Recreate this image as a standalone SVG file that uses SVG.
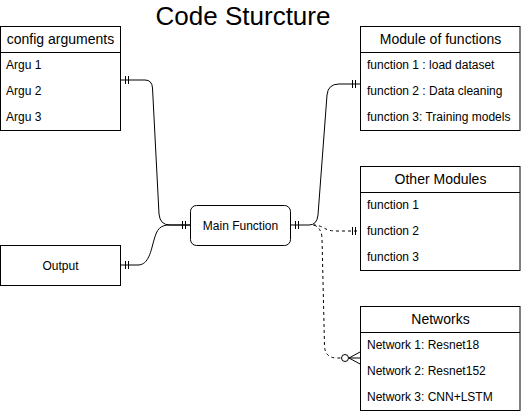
<svg xmlns="http://www.w3.org/2000/svg" width="521" height="413" viewBox="0 0 521 413">
<style>
  .box{fill:#fff;stroke:#000;stroke-width:1}
  .sep{stroke:#000;stroke-width:1}
  .hdr{font-family:"Liberation Sans",Arial,sans-serif;font-size:14px;fill:#000;text-anchor:middle}
  .row{font-family:"Liberation Sans",Arial,sans-serif;font-size:12px;fill:#000}
  .lbl{font-family:"Liberation Sans",Arial,sans-serif;font-size:12px;fill:#000;text-anchor:middle}
  .title{font-family:"Liberation Sans",Arial,sans-serif;font-size:26px;fill:#000;text-anchor:middle}
  .edge{fill:none;stroke:#000;stroke-width:1}
  .dash{stroke-dasharray:3 3}
  .tick{stroke:#000;stroke-width:1}
</style>
<rect width="521" height="413" fill="#fff"/>
<text id="title" class="title" x="243" y="25">Code Sturcture</text>

<g id="connectors">
  <path class="edge" d="M120.5,80 H145 Q152,80 152.5,88 L159,214 Q160,225 170,225 H190"/>
  <path class="edge" d="M120.5,265 H138 C149,265 151,250 154,240 C157,229 160,225 170,225 H190"/>
  <path class="edge" d="M290.5,225 H309 Q317,225 318,215 L327,95 Q328,84 339,84 H360"/>
  <path class="edge dash" d="M313,225 Q319,225 325,228.5 Q329,231 336,231 H360"/>
  <path class="edge dash" d="M314,225 Q321.5,228 322,238 L324.5,346 Q325,358 337,358 H341.5"/>
  <!-- mandatory-one ticks -->
  <path class="tick" d="M125.5,76 V84 M128.5,76 V84"/>
  <path class="tick" d="M125.5,261 V269 M128.5,261 V269"/>
  <path class="tick" d="M182.5,221 V229 M185.5,221 V229"/>
  <path class="tick" d="M295.5,221 V229 M298.5,221 V229"/>
  <path class="tick" d="M352.5,80 V88 M355.5,80 V88"/>
  <path class="tick" d="M352.5,227 V235 M355.5,227 V235"/>
  <!-- zero-to-many -->
  <circle cx="345" cy="358" r="3.5" fill="#fff" stroke="#000"/>
  <path class="edge" d="M360,352 L349,358 L360,364 M349,358 H360"/>
</g>

<g id="config">
  <rect class="box" x="0.5" y="26.5" width="120" height="104"/>
  <line class="sep" x1="0.5" y1="52.5" x2="120.5" y2="52.5"/>
  <text class="hdr" x="60.5" y="44">config arguments</text>
  <text class="row" x="6" y="69">Argu 1</text>
  <text class="row" x="6" y="95">Argu 2</text>
  <text class="row" x="6" y="121">Argu 3</text>
</g>

<g id="output">
  <rect class="box" x="0.5" y="245.5" width="120" height="40"/>
  <text class="lbl" x="60.5" y="269.5">Output</text>
</g>

<g id="main">
  <rect class="box" x="190.5" y="205.5" width="100" height="40" rx="6" ry="6"/>
  <text class="lbl" x="240.5" y="229.5">Main Function</text>
</g>

<g id="modules">
  <rect class="box" x="360.5" y="26.5" width="159.5" height="104"/>
  <line class="sep" x1="360.5" y1="52.5" x2="520" y2="52.5"/>
  <text class="hdr" x="440.5" y="44">Module of functions</text>
  <text class="row" x="367" y="69">function 1 : load dataset</text>
  <text class="row" x="367" y="95">function 2 : Data cleaning</text>
  <text class="row" x="367" y="121">function 3: Training models</text>
</g>

<g id="other">
  <rect class="box" x="360.5" y="166.5" width="159.5" height="104"/>
  <line class="sep" x1="360.5" y1="192.5" x2="520" y2="192.5"/>
  <text class="hdr" x="440.5" y="184">Other Modules</text>
  <text class="row" x="367" y="209">function 1</text>
  <text class="row" x="367" y="235">function 2</text>
  <text class="row" x="367" y="261">function 3</text>
</g>

<g id="networks">
  <rect class="box" x="360.5" y="306.5" width="159.5" height="104"/>
  <line class="sep" x1="360.5" y1="332.5" x2="520" y2="332.5"/>
  <text class="hdr" x="440.5" y="324">Networks</text>
  <text class="row" x="367" y="349">Network 1: Resnet18</text>
  <text class="row" x="367" y="375">Network 2: Resnet152</text>
  <text class="row" x="367" y="401">Network 3: CNN+LSTM</text>
</g>
</svg>
